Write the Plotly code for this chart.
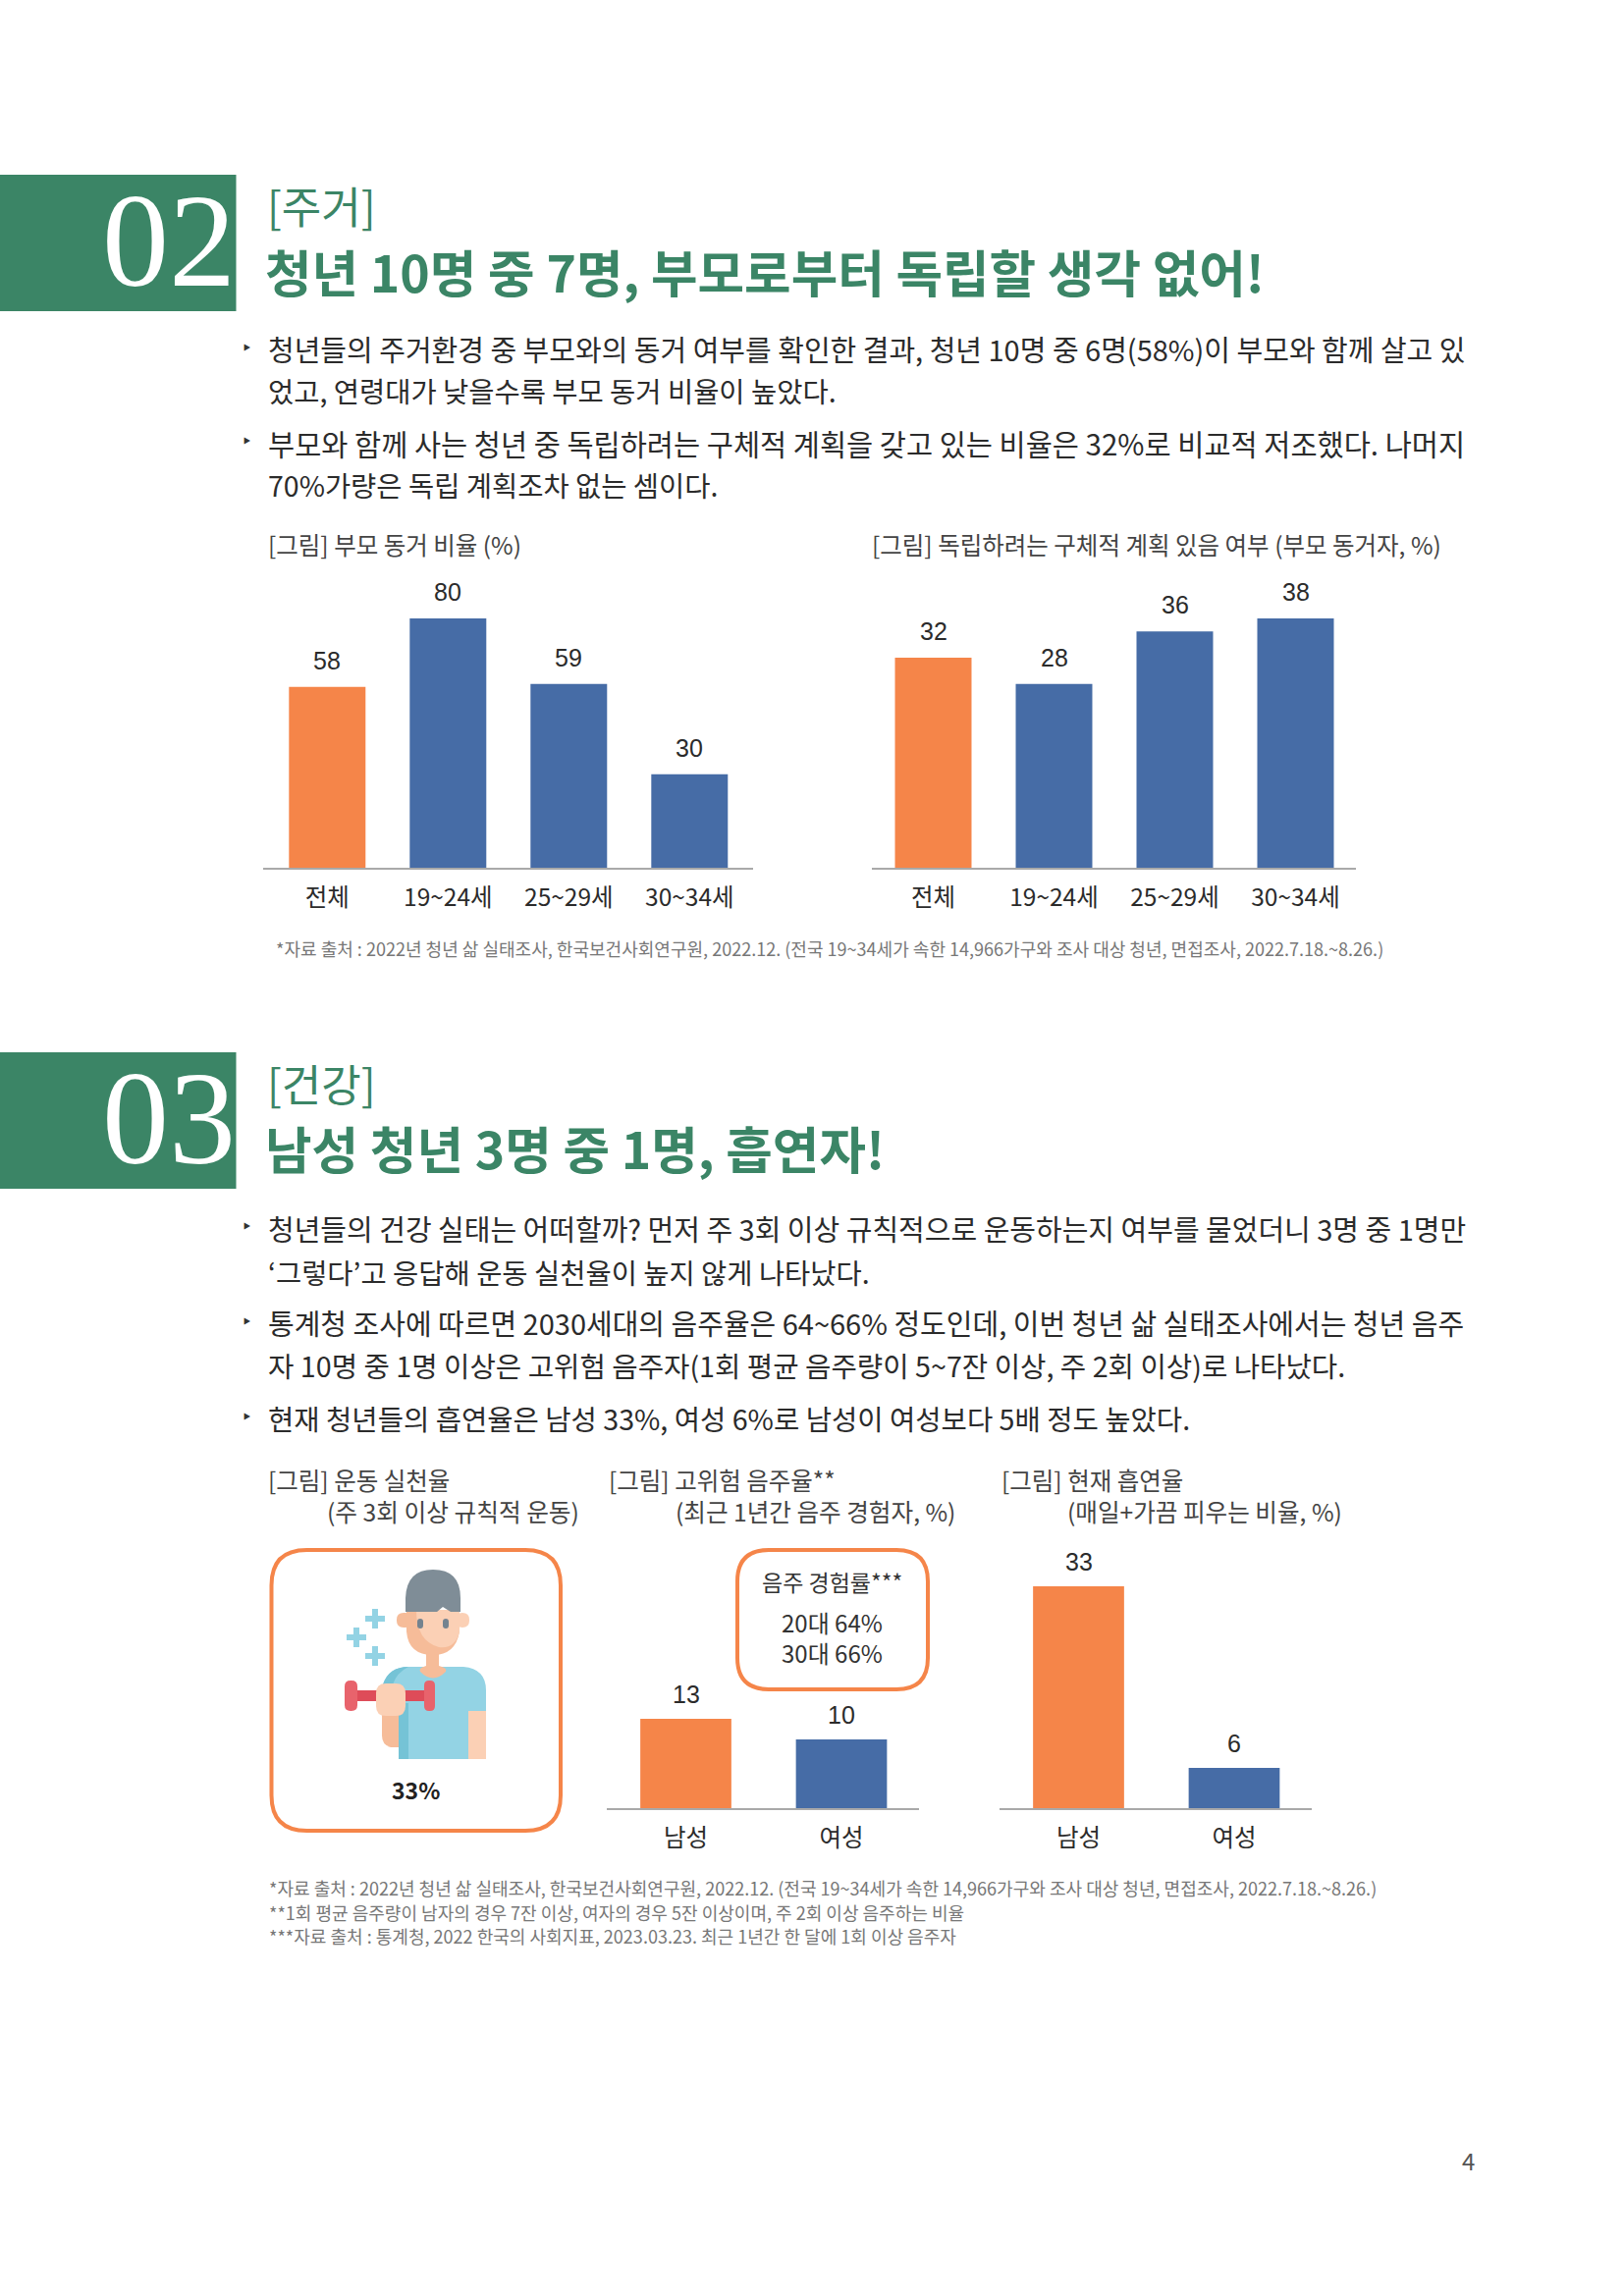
import plotly.graph_objects as go

W, H = 1653, 2339
KR = "Noto Sans CJK KR"
GREEN = "#3B8566"
ORANGE = "#F58549"
BLUE = "#466CA6"
AXIS_GREY = "#A9A9A9"
TEXT = "#2B2B2B"

# chart data
age_labels = ["전체", "19~24세", "25~29세", "30~34세"]
live_with_parents = [58, 80, 59, 30]
has_plan = [32, 28, 36, 38]
age_colors = [ORANGE, BLUE, BLUE, BLUE]

sex_labels = ["남성", "여성"]
high_risk_drinking = [13, 10]
smoking = [33, 6]
sex_colors = [ORANGE, BLUE]

# page text: line, y, bullet, font size (the justified lines differ a little)
section2_tag = "[주거]"
section2_title = "청년 10명 중 7명, 부모로부터 독립할 생각 없어!"
section2_body = [
    ("청년들의 주거환경 중 부모와의 동거 여부를 확인한 결과, 청년 10명 중 6명(58%)이 부모와 함께 살고 있", 355, True, 29),
    ("었고, 연령대가 낮을수록 부모 동거 비율이 높았다.", 398, False, 28.5),
    ("부모와 함께 사는 청년 중 독립하려는 구체적 계획을 갖고 있는 비율은 32%로 비교적 저조했다. 나머지", 451, True, 29.5),
    ("70%가량은 독립 계획조차 없는 셈이다.", 494, False, 28.5),
]
section3_tag = "[건강]"
section3_title = "남성 청년 3명 중 1명, 흡연자!"
section3_body = [
    ("청년들의 건강 실태는 어떠할까? 먼저 주 3회 이상 규칙적으로 운동하는지 여부를 물었더니 3명 중 1명만", 1251, True, 29),
    ("‘그렇다’고 응답해 운동 실천율이 높지 않게 나타났다.", 1295, False, 28.5),
    ("통계청 조사에 따르면 2030세대의 음주율은 64~66% 정도인데, 이번 청년 삶 실태조사에서는 청년 음주", 1347, True, 29),
    ("자 10명 중 1명 이상은 고위험 음주자(1회 평균 음주량이 5~7잔 이상, 주 2회 이상)로 나타났다.", 1390, False, 28.7),
    ("현재 청년들의 흡연율은 남성 33%, 여성 6%로 남성이 여성보다 5배 정도 높았다.", 1444, True, 28.6),
]
footnote_main = "*자료 출처 : 2022년 청년 삶 실태조사, 한국보건사회연구원, 2022.12. (전국 19~34세가 속한 14,966가구와 조사 대상 청년, 면접조사, 2022.7.18.~8.26.)"
footnote_2 = "**1회 평균 음주량이 남자의 경우 7잔 이상, 여자의 경우 5잔 이상이며, 주 2회 이상 음주하는 비율"
footnote_3 = "***자료 출처 : 통계청, 2022 한국의 사회지표, 2023.03.23. 최근 1년간 한 달에 1회 이상 음주자"


def px(x):
    return x / W


def py(y):
    return 1 - y / H


fig = go.Figure()
annotations = []
shapes = []


def text(x, y, s, size=24, color=TEXT, anchor="left", family=KR):
    annotations.append(dict(
        x=px(x), y=py(y), xref="paper", yref="paper", text=s, showarrow=False,
        xanchor=anchor, yanchor="middle", align=anchor,
        font=dict(family=family, size=size, color=color),
    ))


def box(x0, y0, x1, y1, color):
    shapes.append(dict(type="rect", xref="paper", yref="paper", x0=px(x0), x1=px(x1),
                       y0=py(y0), y1=py(y1), fillcolor=color, line_width=0, layer="below"))


def path(d, color, line=None, line_w=0):
    # d holds page pixels, e.g. [("M", 1, 2), ("L", 3, 4), ("Q", 5, 6, 7, 8), ("Z",)]
    out = ""
    for seg in d:
        out += seg[0]
        vals = seg[1:]
        out += " ".join(f"{px(vals[i]):.5f},{py(vals[i + 1]):.5f}" for i in range(0, len(vals), 2)) + " "
    shapes.append(dict(type="path", xref="paper", yref="paper", path=out, fillcolor=color,
                       line=dict(color=line or color, width=line_w), layer="above"))


def rounded(x0, y0, x1, y1, r):
    return [("M", x0 + r, y0), ("L", x1 - r, y0), ("Q", x1, y0, x1, y0 + r), ("L", x1, y1 - r),
            ("Q", x1, y1, x1 - r, y1), ("L", x0 + r, y1), ("Q", x0, y1, x0, y1 - r), ("L", x0, y0 + r),
            ("Q", x0, y0, x0 + r, y0), ("Z",)]


def bar_chart(n, cats, values, colors, x0, x1, y_base, y_top, first_c, step, bar_w, label_shift, tick_len):
    xname, yname = ("x", "y") if n == 1 else (f"x{n}", f"y{n}")
    fig.add_trace(go.Bar(x=cats, y=values, marker_color=colors, marker_line_width=0, width=bar_w,
                         xaxis=xname, yaxis=yname, showlegend=False, hoverinfo="skip"))
    fig.update_layout({
        ("xaxis" if n == 1 else f"xaxis{n}"): dict(
            domain=[px(x0), px(x1)], anchor=yname, type="category",
            categoryorder="array", categoryarray=cats,
            range=[(x0 - first_c) / step, (x1 - first_c) / step],
            showline=True, linecolor=AXIS_GREY, linewidth=1.5, showgrid=False, zeroline=False,
            ticks="outside", ticklen=tick_len, tickcolor="rgba(0,0,0,0)",
            tickfont=dict(family=KR, size=24.5, color=TEXT)),
        ("yaxis" if n == 1 else f"yaxis{n}"): dict(
            domain=[py(y_base), py(y_top)], anchor=xname, range=[0, max(values)],
            visible=False, showgrid=False, zeroline=False),
    })
    for c, v in zip(cats, values):
        annotations.append(dict(x=c, y=v, xref=xname, yref=yname, text=str(v), showarrow=False,
                                yanchor="middle", yshift=label_shift,
                                font=dict(family="Liberation Sans", size=25, color=TEXT)))


# section banners and headings
for y0, y1, num, tag, title, tag_y, title_y, num_y in [
    (178, 317, "02", section2_tag, section2_title, 209, 275, 245),
    (1072, 1211, "03", section3_tag, section3_title, 1103, 1168, 1139),
]:
    box(0, y0, 240.5, y1, GREEN)
    text(242, num_y, num, 136, "white", "right", "Liberation Serif")
    text(270, tag_y, tag, 44, GREEN)
    text(268, title_y, f"<b>{title}</b>", 51.7, GREEN)

# body text
for line, y, bullet, size in section2_body + section3_body:
    if bullet:
        text(245, y - 3, "‣", 24, "#333333")
    text(271, y, line, size, TEXT)

# charts
text(271, 554, "[그림] 부모 동거 비율 (%)", 24.5, "#444444")
text(886, 554, "[그림] 독립하려는 구체적 계획 있음 여부 (부모 동거자, %)", 24.5, "#444444")
bar_chart(1, age_labels, live_with_parents, age_colors, 268, 767, 884, 630, 333.3, 123, 0.634, 27, 8)
bar_chart(2, age_labels, has_plan, age_colors, 888, 1381, 884, 630, 950.5, 123, 0.634, 27, 8)

text(271, 1507, "[그림] 운동 실천율", 24.5, "#444444")
text(331, 1539, "(주 3회 이상 규칙적 운동)", 24.7, "#444444")
text(618, 1507, "[그림] 고위험 음주율**", 24.5, "#444444")
text(686, 1539, "(최근 1년간 음주 경험자, %)", 24.6, "#444444")
text(1018, 1507, "[그림] 현재 흡연율", 24.5, "#444444")
text(1085, 1539, "(매일+가끔 피우는 비율, %)", 24.6, "#444444")
bar_chart(3, sex_labels, high_risk_drinking, sex_colors, 618, 936, 1842, 1751, 698.5, 158.5, 0.585, 25, 8)
bar_chart(4, sex_labels, smoking, sex_colors, 1018, 1336, 1842, 1616, 1098.5, 158.5, 0.585, 25, 8)

# callout boxes
path(rounded(276.5, 1579, 571, 1865, 36), "rgba(0,0,0,0)", ORANGE, 4)
path(rounded(751, 1579, 945, 1721, 32), "rgba(0,0,0,0)", ORANGE, 4)
text(847, 1611, "음주 경험률***", 23, "#333333", "center")
text(847, 1668, "20대 64%<br>30대 66%", 24, "#333333", "center")
text(423, 1823, "<b>33%</b>", 23, "#222222", "center")

# exercise icon
SKIN, SKIN_D, SHIRT, SHIRT_D = "#FBD0B5", "#F6BC99", "#93D3E4", "#75C3D6"
RED, RED_D, HAIR = "#E8636C", "#DE4C59", "#7F8D97"
for cx, cy in [(382, 1649), (363, 1668), (382, 1687)]:
    path([("M", cx - 10, cy - 3), ("L", cx - 3, cy - 3), ("L", cx - 3, cy - 10), ("L", cx + 3, cy - 10),
          ("L", cx + 3, cy - 3), ("L", cx + 10, cy - 3), ("L", cx + 10, cy + 3), ("L", cx + 3, cy + 3),
          ("L", cx + 3, cy + 10), ("L", cx - 3, cy + 10), ("L", cx - 3, cy + 3), ("L", cx - 10, cy + 3), ("Z",)],
         SHIRT)
# shirt, arm, neck
path([("M", 390, 1716), ("Q", 396, 1698, 416, 1698), ("L", 472, 1698), ("Q", 495, 1700, 495, 1722),
      ("L", 495, 1792), ("L", 406, 1792), ("L", 406, 1735), ("Z",)], SHIRT)
path([("M", 406, 1735), ("L", 416, 1735), ("L", 416, 1792), ("L", 406, 1792), ("Z",)], SHIRT_D)
path([("M", 390, 1716), ("Q", 396, 1698, 416, 1698), ("Q", 404, 1704, 400, 1716), ("Z",)], SHIRT_D)
path([("M", 477, 1743), ("L", 495, 1743), ("L", 495, 1792), ("L", 477, 1792), ("Z",)], SKIN)
path([("M", 434, 1680), ("L", 447, 1680), ("L", 447, 1697), ("Q", 456, 1699, 454, 1703),
      ("Q", 441, 1716, 428, 1703), ("Q", 426, 1699, 434, 1697), ("Z",)], SKIN_D)
# head
path(rounded(404, 1643, 420, 1658, 7), SKIN_D)
path(rounded(464, 1643, 478, 1658, 7), SKIN)
path([("M", 414, 1640), ("L", 468, 1640), ("L", 468, 1662), ("Q", 464, 1686, 441, 1686),
      ("Q", 416, 1686, 414, 1662), ("Z",)], SKIN_D)
path([("M", 424, 1640), ("L", 468, 1640), ("L", 468, 1662), ("Q", 464, 1680, 447, 1678),
      ("Q", 424, 1672, 424, 1640), ("Z",)], SKIN)
path([("M", 413, 1642), ("L", 413, 1628), ("Q", 414, 1599, 441, 1599), ("Q", 469, 1599, 469, 1628),
      ("L", 469, 1642), ("L", 459, 1642), ("L", 451, 1637), ("L", 445, 1642), ("Z",)], HAIR)
path(rounded(425, 1649, 431, 1659, 3), "#74838F")
path(rounded(451, 1649, 457, 1659, 3), "#74838F")
# dumbbell and hand
path(rounded(362, 1722, 434, 1733, 1), RED_D)
path(rounded(351, 1712, 364, 1743, 6), RED)
path(rounded(432, 1712, 443, 1743, 5), RED)
path([("M", 389, 1740), ("L", 406, 1740), ("L", 406, 1780), ("L", 398, 1780), ("Q", 389, 1778, 389, 1768), ("Z",)], SKIN_D)
path(rounded(383, 1715, 413, 1748, 10), SKIN)

# footnotes and page number
text(279, 966, footnote_main, 18.05, "#777777")
text(272, 1923, footnote_main, 18.05, "#777777")
text(272, 1948, footnote_2, 18.05, "#777777")
text(272, 1972, footnote_3, 18.05, "#777777")
text(1495, 2200, "4", 24, "#555555", "center")

fig.update_layout(
    width=W, height=H, margin=dict(l=0, r=0, t=0, b=0, pad=0),
    paper_bgcolor="white", plot_bgcolor="white", bargap=0.37,
    annotations=annotations, shapes=shapes,
)
fig.write_html("out.html", config={"displayModeBar": False},
               post_script="document.body.style.margin='0';")
